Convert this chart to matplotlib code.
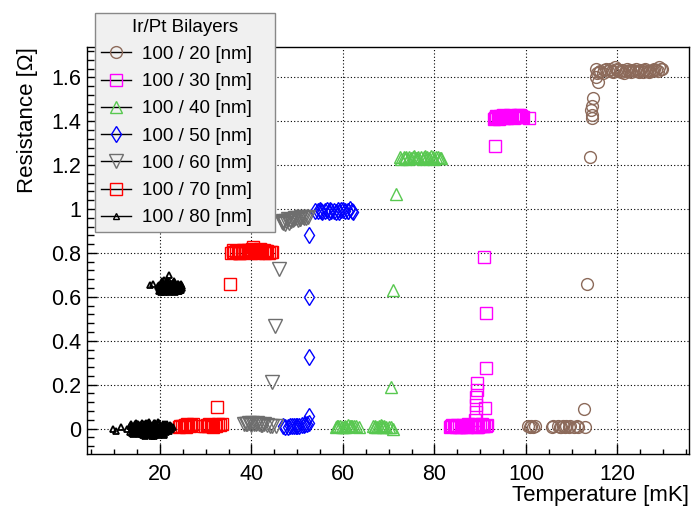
import numpy as np
import matplotlib
matplotlib.use("Agg")
import matplotlib.pyplot as plt
from matplotlib.lines import Line2D
from matplotlib.ticker import MultipleLocator

plt.rcParams['font.family'] = ['Liberation Sans', 'DejaVu Sans']

# Ir/Pt bilayer transitions, temperature [mK] vs resistance [Ohm]
t_20 = [100.5, 101.6, 105.6, 107.1, 108.2, 109.3, 111.1, 112.9,
        112.6, 113.3, 114.0, 114.4, 114.4, 114.3, 114.5, 114.6, 115.8, 115.2,
        115.6, 116.2, 117.0, 118.3, 119.5, 120.5, 121.5, 122.5, 123.5,
        124.5, 125.5, 126.5, 127.5, 128.5, 129.5,
        115.4, 116.8, 118.0, 119.0, 120.0, 121.0, 122.0, 123.0, 124.0,
        125.0, 126.0, 127.0, 128.0, 129.0, 101.2, 107.6, 108.8, 110.4,
        116.0, 117.5, 118.7, 119.8, 120.8, 121.8, 122.8, 123.8, 124.8,
        125.8, 126.8, 127.8, 128.8, 129.7,
        100.8, 101.9, 105.9, 107.4, 108.5, 109.6, 111.4]
r_20 = [0.010, 0.005, 0.005, 0.010, 0.010, 0.005, 0.010, 0.005,
        0.087, 0.658, 1.236, 1.413, 1.428, 1.451, 1.470, 1.504, 1.580, 1.600,
        1.620, 1.630, 1.635, 1.640, 1.645, 1.630, 1.620, 1.630, 1.635,
        1.630, 1.625, 1.630, 1.630, 1.635, 1.640,
        1.640, 1.620, 1.630, 1.625, 1.640, 1.635, 1.640, 1.625, 1.640,
        1.635, 1.640, 1.625, 1.640, 1.645, 0.012, 0.005, 0.012, 0.008,
        1.625, 1.640, 1.630, 1.635, 1.625, 1.630, 1.635, 1.630, 1.625,
        1.635, 1.630, 1.635, 1.630, 1.640,
        0.008, 0.010, 0.012, 0.006, 0.008, 0.010, 0.006]

t_30 = [83.5, 84.3, 85.0, 85.8, 86.6, 87.4, 88.2, 89.0, 89.6, 90.3, 90.9, 91.5,
        88.9, 89.0, 89.1, 89.0, 89.2, 89.3,
        91.1, 91.2, 91.3, 90.9, 93.2,
        93.0, 93.8, 94.6, 95.4, 96.2, 97.0, 97.8, 98.6, 99.4, 100.7,
        83.9, 84.7, 86.2, 87.0, 87.8, 90.0, 93.4, 94.2, 95.0, 95.8, 96.6, 97.4, 98.2, 99.0,
        93.5, 94.4, 95.2, 96.0, 96.8, 97.6, 98.4, 99.2, 93.2, 94.8,
        83.7, 84.5, 85.4, 86.4, 87.2, 88.0, 88.6, 89.4, 90.6, 91.3]
r_30 = [0.005, 0.010, 0.015, 0.005, 0.010, 0.020, 0.010, 0.015, 0.005, 0.020, 0.010, 0.015,
        0.040, 0.077, 0.107, 0.145, 0.175, 0.206,
        0.093, 0.275, 0.527, 0.780, 1.287,
        1.410, 1.415, 1.420, 1.425, 1.420, 1.425, 1.420, 1.430, 1.420, 1.415,
        0.015, 0.005, 0.015, 0.005, 0.015, 0.010, 1.425, 1.410, 1.430, 1.415, 1.430, 1.415, 1.430, 1.425,
        1.418, 1.422, 1.415, 1.420, 1.425, 1.418, 1.422, 1.420, 1.415, 1.425,
        0.010, 0.012, 0.008, 0.012, 0.008, 0.012, 0.010, 0.008, 0.012, 0.010]

t_40 = [58.5, 59.3, 60.2, 61.2, 62.0, 62.9, 63.5, 66.6, 67.4, 68.3, 69.0, 70.0, 70.9,
        70.6, 70.9, 71.7,
        72.8, 73.8, 74.8, 75.6, 76.5, 77.4, 78.3, 79.3, 80.3, 81.5,
        59.0, 60.7, 61.7, 67.0, 68.8, 73.3, 74.3, 76.0, 77.9, 79.8,
        72.5, 73.5, 74.5, 75.3, 76.2, 77.0, 77.7, 78.8, 79.6, 80.8, 81.2,
        58.8, 59.8, 60.5, 61.5, 62.5, 66.9, 67.8, 68.6, 69.5, 70.4]
r_40 = [0.005, 0.010, 0.005, 0.015, 0.010, 0.012, 0.008, 0.010, 0.005, 0.015, 0.010, 0.005, 0.000,
        0.190, 0.630, 1.070,
        1.230, 1.235, 1.232, 1.240, 1.235, 1.230, 1.238, 1.240, 1.235, 1.232,
        0.012, 0.008, 0.012, 0.012, 0.008, 1.238, 1.228, 1.232, 1.242, 1.228,
        1.235, 1.232, 1.238, 1.235, 1.232, 1.238, 1.235, 1.232, 1.238, 1.235, 1.232,
        0.010, 0.008, 0.010, 0.012, 0.010, 0.008, 0.010, 0.012, 0.008, 0.005]

t_50 = [46.8, 47.9, 49.3, 50.5, 51.4, 52.1, 52.6,
        52.6, 52.6, 52.6, 52.6,
        54.5, 55.5, 56.5, 57.5, 58.5, 59.5, 60.5, 61.5, 62.3,
        48.4, 50.0, 55.0, 57.0, 59.0, 61.0,
        54.0, 55.2, 56.0, 57.2, 58.0, 59.2, 60.0, 61.2, 62.0,
        47.3, 48.8, 49.8, 51.0, 51.8]
r_50 = [0.010, 0.008, 0.010, 0.012, 0.015, 0.020, 0.025,
        0.057, 0.327, 0.600, 0.880,
        0.990, 0.985, 0.995, 0.990, 0.985, 0.995, 0.990, 1.000, 0.985,
        0.012, 0.010, 0.995, 0.985, 0.995, 0.990,
        0.990, 0.990, 0.990, 0.995, 0.990, 0.985, 0.995, 0.990, 0.990,
        0.008, 0.010, 0.012, 0.015, 0.020]

t_60 = [38.4, 39.4, 40.6, 41.3, 42.0, 42.8, 44.0, 45.3,
        44.6, 45.1, 46.1,
        46.6, 47.3, 48.0, 48.7, 49.5, 50.2, 50.9, 51.6, 52.3,
        39.0, 40.0, 41.7, 47.0, 48.3, 49.1, 50.6,
        46.9, 47.6, 48.5, 49.3, 50.0, 50.7, 51.3, 52.0,
        38.8, 40.2, 41.0, 42.4, 43.3, 44.6]
r_60 = [0.020, 0.025, 0.020, 0.025, 0.015, 0.020, 0.010, 0.010,
        0.210, 0.467, 0.727,
        0.940, 0.930, 0.955, 0.945, 0.960, 0.950, 0.965, 0.960, 0.965,
        0.022, 0.018, 0.020, 0.945, 0.935, 0.950, 0.955,
        0.935, 0.945, 0.950, 0.955, 0.960, 0.955, 0.965, 0.960,
        0.020, 0.025, 0.020, 0.018, 0.015, 0.012]

t_70 = [24.2, 24.8, 25.5, 26.0, 26.5, 27.2, 29.5, 30.2, 30.8, 31.4, 32.0, 32.6, 33.6,
        32.5, 35.4,
        35.6, 36.3, 37.0, 37.6, 38.2, 38.8, 39.5, 40.1, 40.7, 41.2, 41.8, 42.4, 43.1, 43.8, 44.6,
        25.2, 26.2, 29.9, 31.1, 36.0, 37.3, 38.5, 39.8, 40.4, 41.5, 42.8,
        35.9, 36.6, 37.3, 38.0, 38.6, 39.2, 39.9, 40.5, 41.0, 41.6, 42.2, 42.9, 43.5, 44.2,
        24.5, 25.8, 26.8, 30.5, 31.7, 32.3, 33.2]
r_70 = [0.005, 0.010, 0.015, 0.020, 0.010, 0.020, 0.010, 0.015, 0.020, 0.010, 0.015, 0.020, 0.020,
        0.100, 0.660,
        0.800, 0.805, 0.810, 0.800, 0.815, 0.805, 0.810, 0.820, 0.815, 0.810, 0.820, 0.805, 0.810, 0.800, 0.805,
        0.012, 0.015, 0.012, 0.018, 0.812, 0.800, 0.812, 0.805, 0.825, 0.802, 0.815,
        0.805, 0.810, 0.800, 0.810, 0.805, 0.815, 0.800, 0.810, 0.805, 0.810, 0.815, 0.800, 0.810, 0.805,
        0.012, 0.008, 0.015, 0.012, 0.008, 0.012, 0.015]

t_80 = [9.8, 10.4, 11.6, 12.9, 13.4, 13.9, 14.3, 14.6, 14.9, 15.2, 15.5, 15.8, 16.0,
        16.3, 16.6, 16.8, 17.1, 17.3, 17.6, 17.8, 18.1, 18.3, 18.6, 18.8, 19.1, 19.3,
        19.6, 19.9, 20.1, 20.4, 20.7, 21.0, 21.3, 21.7, 22.0, 22.4, 22.8,
        13.6, 14.1, 14.7, 15.3, 15.9, 16.4, 16.9, 17.4, 17.9, 18.4, 18.9, 19.4, 19.8,
        20.3, 20.9, 21.5, 22.2,
        14.4, 15.0, 15.7, 16.2, 16.7, 17.2, 17.7, 18.2, 18.7, 19.2, 19.7, 20.2, 20.6, 21.1,
        13.8, 14.2, 14.8, 15.4, 16.0, 16.5, 17.0, 17.5, 18.0, 18.5, 19.0, 19.5, 20.0,
        20.5, 21.0, 21.6, 22.3, 15.1, 16.1, 17.2, 18.1, 19.0, 20.0, 21.2,
        14.0, 15.6, 17.0, 18.6, 19.8, 21.4,
        13.5, 14.0, 14.5, 15.0, 15.5, 16.0, 16.5, 17.0, 17.5, 18.0, 18.5, 19.0, 19.5,
        20.0, 20.5, 21.0, 21.5, 22.0, 22.5, 14.3, 15.3, 16.3, 17.3, 18.3, 19.3, 20.3,
        21.3, 16.8, 18.8, 20.8,
        17.8, 18.4,
        19.6, 19.9, 20.2, 20.5, 20.8, 21.1, 21.4, 21.7, 22.0, 22.3, 22.6, 22.9, 23.2,
        23.5, 23.8, 24.1, 24.4, 24.7,
        19.8, 20.4, 21.0, 21.6, 22.2, 22.8, 23.4, 24.0, 24.6,
        20.1, 20.7, 21.3, 21.9, 22.5, 23.1, 23.7, 24.3,
        22.0,
        20.0, 20.3, 20.6, 20.9, 21.2, 21.5, 21.8, 22.1, 22.4, 22.7, 23.0, 23.3, 23.6,
        23.9, 24.2, 24.5, 24.8, 20.5, 21.2, 21.8, 22.4, 23.0, 23.6, 24.2,
        20.8, 21.4, 22.1, 22.7, 23.4, 24.0,
        19.7, 20.0, 20.4, 20.7, 21.0, 21.3, 21.6, 21.9, 22.2, 22.5, 22.8, 23.1, 23.4,
        23.7, 24.0, 24.3, 24.6, 24.9, 20.2, 20.9, 21.5, 22.1, 22.9, 23.5, 24.1, 24.7,
        21.0, 22.0, 23.0, 24.0]
r_80 = [0.000, -0.010, 0.005, 0.000, -0.015, 0.010, -0.020, 0.015, -0.005, 0.020, -0.025, 0.005, 0.025,
        -0.015, 0.010, -0.030, 0.020, -0.010, 0.030, -0.020, 0.005, -0.035, 0.025, -0.005, 0.015, -0.025,
        0.030, -0.015, 0.010, -0.020, 0.020, -0.010, 0.015, -0.005, 0.010, 0.000, 0.005,
        0.020, -0.025, 0.025, -0.020, 0.015, -0.030, 0.025, -0.025, 0.020, -0.030, 0.015, -0.020, 0.025,
        -0.015, 0.010, -0.010, 0.015,
        -0.005, 0.010, -0.010, 0.005, -0.005, 0.010, -0.015, 0.000, 0.015, -0.010, 0.005, -0.015, 0.010, -0.005,
        0.000, -0.005, 0.005, -0.010, 0.000, 0.005, -0.005, 0.000, 0.010, -0.005, 0.000, 0.005, -0.005,
        0.000, 0.005, -0.005, 0.000, 0.020, -0.025, 0.020, -0.025, 0.025, -0.020, 0.020,
        -0.020, 0.015, -0.025, 0.015, -0.030, -0.015,
        0.010, -0.020, 0.020, -0.015, 0.010, -0.025, 0.020, -0.010, 0.025, -0.020, 0.015, -0.030, 0.020,
        -0.015, 0.010, -0.025, 0.020, -0.010, 0.010, 0.000, 0.005, -0.005, 0.000, 0.005, -0.005, 0.000,
        0.005, -0.035, -0.035, -0.030,
        0.655, 0.660,
        0.650, 0.640, 0.660, 0.635, 0.655, 0.645, 0.665, 0.630, 0.650, 0.640, 0.660, 0.635, 0.655,
        0.645, 0.640, 0.650, 0.635, 0.645,
        0.625, 0.670, 0.620, 0.675, 0.625, 0.665, 0.620, 0.660, 0.630,
        0.645, 0.630, 0.655, 0.640, 0.650, 0.630, 0.645, 0.640,
        0.700,
        0.640, 0.650, 0.645, 0.640, 0.650, 0.640, 0.655, 0.645, 0.635, 0.650, 0.645, 0.640, 0.650,
        0.635, 0.645, 0.640, 0.650, 0.660, 0.630, 0.665, 0.630, 0.660, 0.635, 0.655,
        0.635, 0.660, 0.640, 0.655, 0.650, 0.630,
        0.655, 0.630, 0.665, 0.645, 0.625, 0.660, 0.640, 0.670, 0.630, 0.660, 0.645, 0.625, 0.665,
        0.640, 0.660, 0.630, 0.655, 0.640, 0.620, 0.650, 0.670, 0.625, 0.655, 0.645, 0.625, 0.660,
        0.675, 0.620, 0.670, 0.625]

labels = ['100 / 20 [nm]', '100 / 30 [nm]', '100 / 40 [nm]', '100 / 50 [nm]',
          '100 / 60 [nm]', '100 / 70 [nm]', '100 / 80 [nm]']

# marker, edge colour, size, edge width
series = [
    (t_20, r_20, 'o', '#8c6a5a', 8.5, 1.0),
    (t_30, r_30, 's', '#ff00ff', 9.0, 1.0),
    (t_40, r_40, '^', '#58c850', 9.0, 1.0),
    (t_50, r_50, 'd', '#0000ff', 8.5, 1.0),
    (t_60, r_60, 'v', '#6e6e6e', 9.5, 1.0),
    (t_70, r_70, 's', '#ff0000', 9.0, 1.0),
    (t_80, r_80, '^', '#000000', 5.0, 1.3),
]

fig = plt.figure(figsize=(6.93, 5.07), dpi=100)
ax = fig.add_axes([86.7 / 693, 1 - 454.3 / 507, 602.6 / 693, 407.0 / 507])

for t, r, m, c, ms, mew in series:
    ax.plot(t, r, ls='none', marker=m, mfc='none', mec=c, ms=ms, mew=mew)

ax.set_xlim(4.0, 135.7)
ax.set_ylim(-0.1175, 1.737)

ax.xaxis.set_major_locator(MultipleLocator(20))
ax.xaxis.set_minor_locator(MultipleLocator(5))
ax.yaxis.set_major_locator(MultipleLocator(0.2))
ax.yaxis.set_minor_locator(MultipleLocator(0.04))
ax.yaxis.set_major_formatter(plt.FuncFormatter(
    lambda v, p: ('%.1f' % v).rstrip('0').rstrip('.') if abs(v) > 1e-9 else '0'))

ax.tick_params(which='both', direction='in', top=False, right=False, labelsize=15.5, colors='black')
ax.tick_params(axis='x', which='major', length=7, width=1, pad=7)
ax.tick_params(axis='x', which='minor', length=3.5, width=1)
ax.tick_params(axis='y', which='major', length=7, width=1, pad=4)
ax.tick_params(axis='y', which='minor', length=5, width=1)

ax.grid(True, which='major', color='black', ls=(0, (1, 2)), lw=0.8)
for s in ax.spines.values():
    s.set_linewidth(1.0)

ax.set_xlabel('Temperature [mK]', fontsize=16, loc='right')
ax.set_ylabel('Resistance [\u03a9]', fontsize=16, loc='top')
ax.xaxis.set_label_coords(1.0, -0.075)
ax.yaxis.set_label_coords(-0.08, 1.0)

handles = [Line2D([0], [0], color='black', lw=1.0, marker=m, mfc='none', mec=c, ms=ms, mew=1.0)
           for _, _, m, c, ms, _ in series]
leg = fig.legend(handles, labels, title='Ir/Pt Bilayers', loc='upper left',
                 bbox_to_anchor=(95 / 693, 1 - 232 / 507, 180 / 693, 219 / 507),
                 bbox_transform=fig.transFigure, mode='expand',
                 borderaxespad=0, fontsize=13.5, title_fontsize=13.5, handlelength=1.6,
                 handletextpad=0.6, labelspacing=0.54, borderpad=0.3,
                 fancybox=False, framealpha=1, facecolor='#f0f0f0', edgecolor='#888888')
leg.get_frame().set_linewidth(1.0)

fig.savefig('out.png', dpi=100)
